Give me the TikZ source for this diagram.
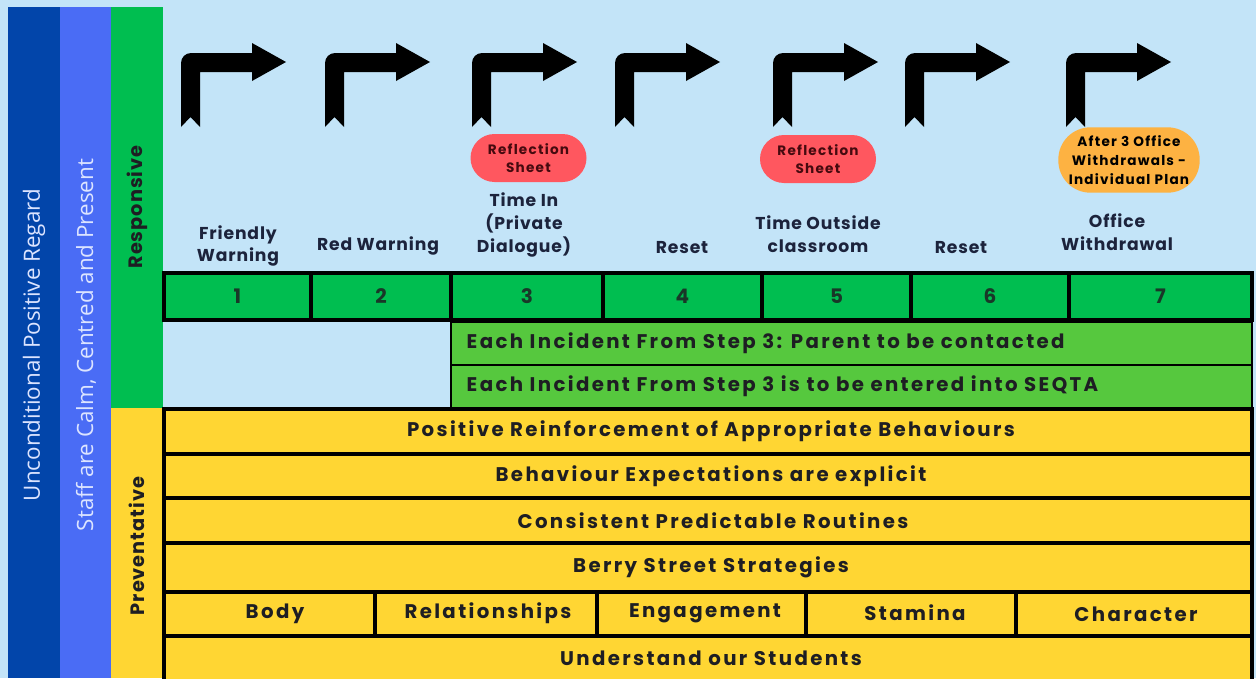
\documentclass[tikz,border=0pt]{standalone}
\usepackage{fontspec}
\setmainfont{Poppins}
\newfontfamily\osans{Open Sans}
\newfontfamily\rowfont{Poppins}[LetterSpace=12]
\newfontfamily\lblfont{Poppins}[LetterSpace=5]
\newfontfamily\pillfont{Poppins}[LetterSpace=9]
\newfontfamily\secfont{Poppins}[LetterSpace=5]
\definecolor{bg}{RGB}{195,228,248}
\definecolor{dblue}{RGB}{2,69,170}
\definecolor{mblue}{RGB}{74,108,245}
\definecolor{grn}{RGB}{0,190,80}
\definecolor{lgrn}{RGB}{86,200,62}
\definecolor{ylw}{RGB}{255,214,51}
\definecolor{pred}{RGB}{255,87,95}
\definecolor{porg}{RGB}{253,178,66}
\definecolor{navy}{RGB}{28,35,60}
\definecolor{dtext}{RGB}{30,30,35}
\definecolor{ntext}{RGB}{25,55,40}
\definecolor{ptext}{RGB}{70,10,15}
\definecolor{sidetext}{RGB}{220,228,255}
\begin{document}
\begin{tikzpicture}[x=0.75pt,y=-0.75pt,
  numbox/.style={draw=black,line width=3pt,fill=grn},
  incbox/.style={draw=black,line width=2.2pt,fill=lgrn},
  ybox/.style={draw=black,line width=2.5pt,fill=ylw},
  numtxt/.style={font=\bfseries\fontsize{15pt}{17pt}\selectfont,text=ntext},
  rowtxt/.style={font=\rowfont\bfseries\fontsize{14.8pt}{16pt}\selectfont,text=dtext},
  lbl/.style={font=\lblfont\bfseries\fontsize{12.9pt}{17pt}\selectfont,text=navy,align=center},
  pilltxt/.style={font=\pillfont\bfseries\fontsize{10.2pt}{14pt}\selectfont,align=center},
  sidelbl/.style={rotate=90,font=\osans\fontsize{16.8pt}{18pt}\selectfont,text=sidetext},
  seclbl/.style={rotate=90,font=\secfont\bfseries\fontsize{14.5pt}{16pt}\selectfont,text=dtext},
  bent/.pic={
    \fill[black] (0,127) -- (0,63) arc[start angle=180,end angle=270,radius=10]
      -- (71,53) -- (71,43) -- (105,62) -- (71,81) -- (71,72) -- (19,72)
      -- (19,127) -- (9.5,117) -- cycle;
  }]
\useasboundingbox (0,0) rectangle (1256,678);
\fill[bg] (0,0) rectangle (1256,678);
% left bars
\fill[dblue] (8,7) rectangle (60,678);
\fill[mblue] (60,7) rectangle (111,678);
\fill[grn] (111,7) rectangle (163,408);
\fill[ylw] (111,408) rectangle (163,678);
\node[sidelbl] (ucpr) at (34,345) {Unconditional Positive Regard};
\node[sidelbl] (staff) at (86,345) {Staff are Calm, Centred and Present};
\node[seclbl] (resp) at (137,207) {Responsive};
\node[seclbl] (prev) at (137,546) {Preventative};
% bent arrows
\pic at (181,0) {bent};
\pic at (325,0) {bent};
\pic at (472,0) {bent};
\pic at (615,0) {bent};
\pic at (773,0) {bent};
\pic at (905,0) {bent};
\pic at (1066,0) {bent};
% pills
\node[pilltxt,fill=pred,text=ptext,minimum width=87pt,minimum height=36pt,rounded corners=18pt] (p1) at (528.5,158) {Reflection\\Sheet};
\node[pilltxt,fill=pred,text=ptext,minimum width=87pt,minimum height=36pt,rounded corners=18pt] (p2) at (818,159) {Reflection\\Sheet};
\node[pilltxt,fill=porg,text=black,minimum width=106pt,minimum height=49pt,rounded corners=24pt] (p3) at (1129,160) {After 3 Office\\Withdrawals -\\Individual Plan};
% step labels
\node[lbl] (l1) at (238,246) {Friendly\\Warning};
\node[lbl] (l2) at (378,246) {Red Warning};
\node[lbl] (l3) at (524,225) {Time In\\(Private\\Dialogue)};
\node[lbl] (l4) at (682,248) {Reset};
\node[lbl] (l5) at (818,234) {Time Outside\\classroom};
\node[lbl] (l6) at (961,248) {Reset};
\node[lbl] (l7) at (1117,232) {Office\\Withdrawal};
% number row
\draw[numbox] (164,273) rectangle (311,320);
\draw[numbox] (311,273) rectangle (451,320);
\draw[numbox] (451,273) rectangle (603,320);
\draw[numbox] (603,273) rectangle (762,320);
\draw[numbox] (762,273) rectangle (911,320);
\draw[numbox] (911,273) rectangle (1069,320);
\draw[numbox] (1069,273) rectangle (1252,320);
\node[numtxt] (n1) at (237.5,296.5) {1};
\node[numtxt] (n2) at (381,296.5) {2};
\node[numtxt] (n3) at (527,296.5) {3};
\node[numtxt] (n4) at (682.5,296.5) {4};
\node[numtxt] (n5) at (836.5,296.5) {5};
\node[numtxt] (n6) at (990,296.5) {6};
\node[numtxt] (n7) at (1160.5,296.5) {7};
% incident rows
\draw[incbox] (451,322) rectangle (1252,365);
\draw[incbox] (451,365) rectangle (1252,408);
\node[rowtxt,anchor=west] (i1) at (462,343.5) {Each Incident From Step 3: Parent to be contacted};
\node[rowtxt,anchor=west] (i2) at (462,386.5) {Each Incident From Step 3 is to be entered into SEQTA};
% preventative rows
\draw[ybox] (164,409) rectangle (1252,454);
\draw[ybox] (164,454) rectangle (1252,498);
\draw[ybox] (164,498) rectangle (1252,543);
\draw[ybox] (164,543) rectangle (1252,592);
\draw[ybox] (164,592) rectangle (375,636);
\draw[ybox] (375,592) rectangle (597,636);
\draw[ybox] (597,592) rectangle (806,636);
\draw[ybox] (806,592) rectangle (1016,636);
\draw[ybox] (1016,592) rectangle (1252,636);
\draw[ybox] (164,636) rectangle (1252,700);
\node[rowtxt] (y1) at (711,431.5) {Positive Reinforcement of Appropriate Behaviours};
\node[rowtxt] (y2) at (711,476) {Behaviour Expectations are explicit};
\node[rowtxt] (y3) at (713,520.5) {Consistent Predictable Routines};
\node[rowtxt] (y4) at (711,567.5) {Berry Street Strategies};
\node[rowtxt] (b1) at (275,614) {Body};
\node[rowtxt] (b2) at (488,613) {Relationships};
\node[rowtxt] (b3) at (705,613) {Engagement};
\node[rowtxt] (b4) at (915,613) {Stamina};
\node[rowtxt] (b5) at (1136,614) {Character};
\node[rowtxt] (y6) at (711,658) {Understand our Students};
\end{tikzpicture}
\end{document}
